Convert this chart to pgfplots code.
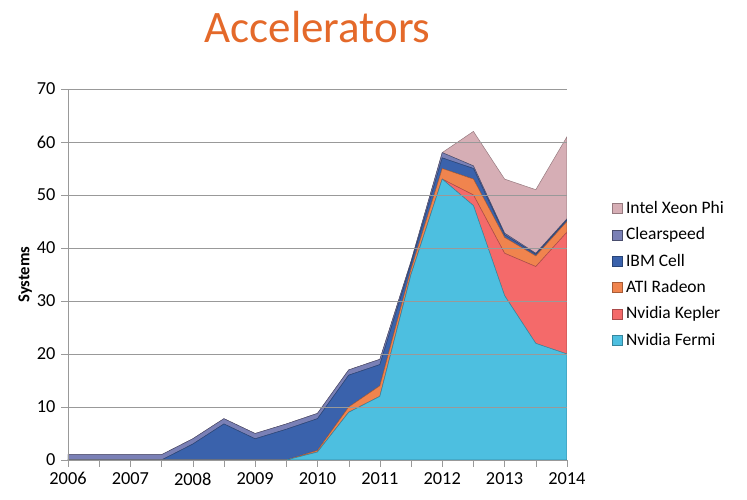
\documentclass[border=0pt]{standalone}
\usepackage{pgfplots}
\pgfplotsset{compat=1.18}
\usepackage{fontspec}
\setmainfont{Carlito}
\definecolor{cfermi}{HTML}{4DBFE0}
\definecolor{ckepler}{HTML}{F46A6A}
\definecolor{cati}{HTML}{F0844E}
\definecolor{ccell}{HTML}{3A62AC}
\definecolor{cclear}{HTML}{7A80B6}
\definecolor{cphi}{HTML}{D6AEB5}
\definecolor{ctitle}{HTML}{E4692A}
\begin{document}
\begin{tikzpicture}
\begin{axis}[
  scale only axis, width=299.4pt, height=222.6pt,
  at={(0,0)}, anchor=south west,
  xmin=2006, xmax=2014, ymin=0, ymax=70,
  xtick={2006,...,2014}, minor xtick={2006.5,2007.5,...,2013.5},
  xticklabel style={/pgf/number format/1000 sep={}},
  ytick={0,10,...,70},
  tick align=outside, tick pos=left,
  major tick length=4pt, minor tick length=4pt,
  ymajorgrids, grid style={gray!80},
  axis line style={gray!80}, tick style={gray!80},
  axis x line*=bottom, axis y line*=left,
  tick label style={font=\fontsize{11}{13}\selectfont},
  /pgf/number format/assume math mode=true,
  ylabel={\textbf{Systems}}, ylabel style={font=\fontsize{10}{12}\selectfont, yshift=-4pt},
  stack plots=y, area style,
  legend style={at={(1.08,0.5)}, anchor=west, draw=none, fill=none,
    font=\fontsize{10.5}{12}\selectfont, row sep=3pt},
  legend cell align=left,
  reverse legend,
  legend image code/.code={\draw[#1] (0pt,-3pt) rectangle (6pt,3pt);},
  title={Accelerators}, title style={font=\fontsize{27}{30}\selectfont, text=ctitle, yshift=18pt},
]
\addplot[fill=cfermi, draw=cfermi!70!black, line width=0.3pt] coordinates {
(2006,0)(2006.5,0)(2007,0)(2007.5,0)(2008,0)(2008.5,0)(2009,0)(2009.5,0)(2010,1.5)(2010.5,9)(2011,12)(2011.5,35)(2012,53)(2012.5,48)(2013,31)(2013.5,22)(2014,20)} \closedcycle;
\addlegendentry{Nvidia Fermi}
\addplot[fill=ckepler, draw=ckepler!70!black, line width=0.3pt] coordinates {
(2006,0)(2006.5,0)(2007,0)(2007.5,0)(2008,0)(2008.5,0)(2009,0)(2009.5,0)(2010,0)(2010.5,0)(2011,0)(2011.5,0)(2012,0)(2012.5,2)(2013,8)(2013.5,14.5)(2014,23)} \closedcycle;
\addlegendentry{Nvidia Kepler}
\addplot[fill=cati, draw=cati!70!black, line width=0.3pt] coordinates {
(2006,0)(2006.5,0)(2007,0)(2007.5,0)(2008,0)(2008.5,0)(2009,0)(2009.5,0)(2010,0.3)(2010.5,1)(2011,2)(2011.5,1)(2012,2)(2012.5,3)(2013,3)(2013.5,2)(2014,2)} \closedcycle;
\addlegendentry{ATI Radeon}
\addplot[fill=ccell, draw=ccell!70!black, line width=0.3pt] coordinates {
(2006,0)(2006.5,0)(2007,0)(2007.5,0)(2008,3)(2008.5,6.8)(2009,4)(2009.5,5.8)(2010,6)(2010.5,6)(2011,4)(2011.5,1)(2012,2)(2012.5,2)(2013,0.5)(2013.5,0.3)(2014,0.3)} \closedcycle;
\addlegendentry{IBM Cell}
\addplot[fill=cclear, draw=cclear!60!black, line width=0.3pt] coordinates {
(2006,1)(2006.5,1)(2007,1)(2007.5,1)(2008,1)(2008.5,1)(2009,1)(2009.5,1)(2010,1)(2010.5,1)(2011,1)(2011.5,0.5)(2012,1)(2012.5,0.5)(2013,0.3)(2013.5,0.2)(2014,0.2)} \closedcycle;
\addlegendentry{Clearspeed}
\addplot[fill=cphi, draw=cphi!70!black, line width=0.3pt] coordinates {
(2006,0)(2006.5,0)(2007,0)(2007.5,0)(2008,0)(2008.5,0)(2009,0)(2009.5,0)(2010,0)(2010.5,0)(2011,0)(2011.5,0)(2012,0)(2012.5,6.5)(2013,10.2)(2013.5,12)(2014,15.5)} \closedcycle;
\addlegendentry{Intel Xeon Phi}
\end{axis}
\path (current axis.south west) ++(-40.8pt,-24pt) rectangle ++(448.2pt,300pt);
\end{tikzpicture}
\end{document}
